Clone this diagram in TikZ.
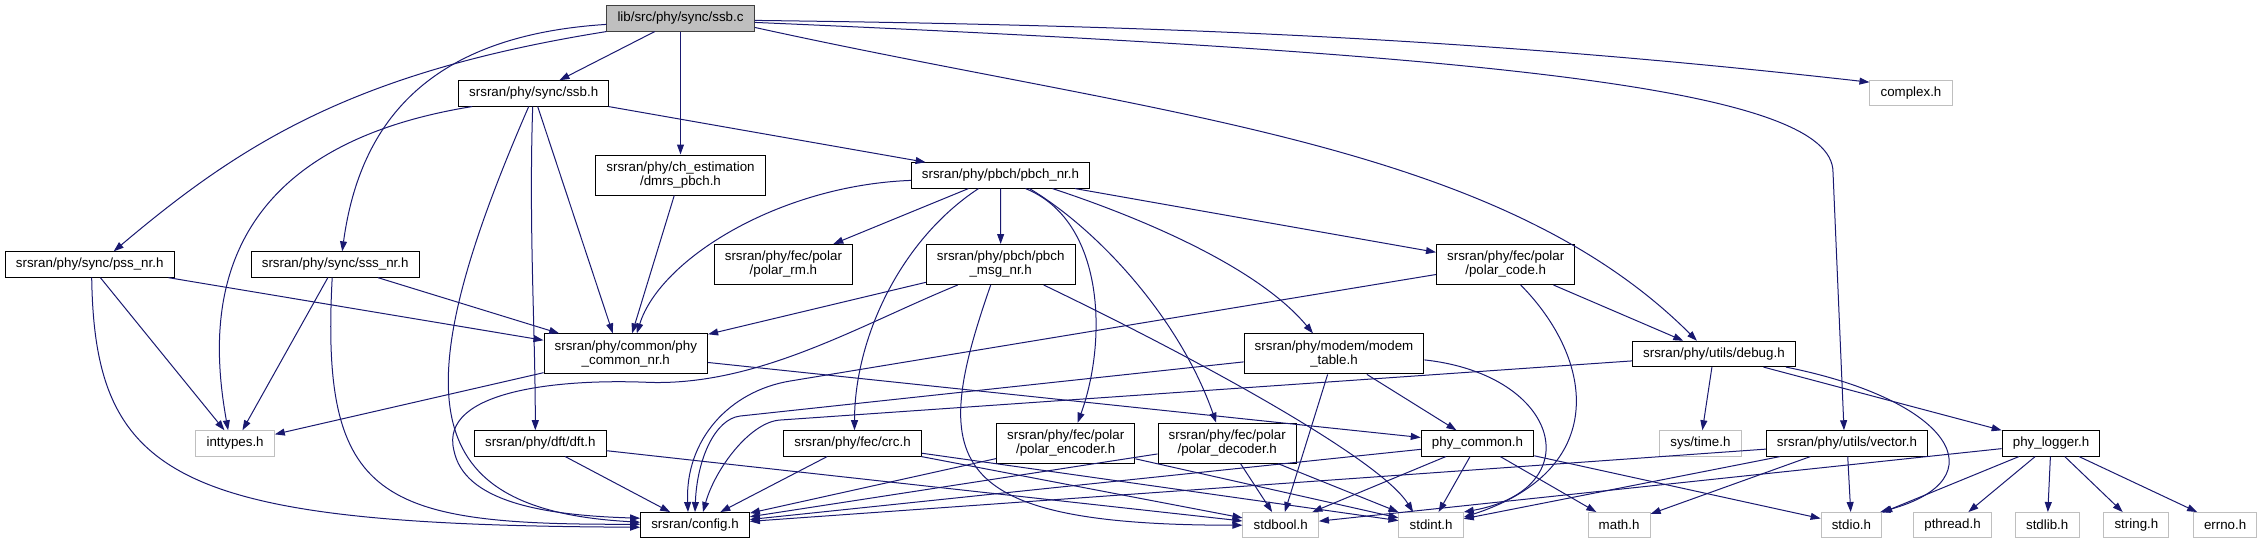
\documentclass[tikz,border=0pt]{standalone}
\usepackage{fontspec}
\setmainfont{Liberation Sans}
\usetikzlibrary{arrows.meta,calc}
\definecolor{edgeblue}{HTML}{191970}
\definecolor{boxgray}{HTML}{BFBFBF}

\begin{document}
\begin{tikzpicture}[x=0.75pt,y=0.75pt,
    hdr/.style={draw=black, line width=0.75pt, fill=white, font=\fontsize{10}{10.5}\selectfont,
        align=center, inner xsep=8pt, inner ysep=1pt, minimum height=19pt},
    two/.style={minimum height=30pt},
    sys/.style={hdr, draw=boxgray},
    root/.style={hdr, fill=boxgray, draw=black!75},
    dep/.style={draw=edgeblue, line width=0.75pt, -{Triangle[length=7.5pt,width=5.2pt]}}]
    \useasboundingbox (0,0) rectangle (2261,-544);

    \node[root] (ssbc) at (680.5,-18.4) {lib/src/phy/sync/ssb.c};
    \node[hdr] (ssbh) at (533.7,-93.4) {srsran/phy/sync/ssb.h};
    \node[sys] (complex) at (1911,-93.2) {complex.h};
    \node[hdr,two] (dmrs) at (680.5,-175) {srsran/phy/ch\_estimation\\/dmrs\_pbch.h};
    \node[hdr] (pbchnr) at (1000.5,-175.4) {srsran/phy/pbch/pbch\_nr.h};

    \node[hdr] (pss) at (89.7,-264.5) {srsran/phy/sync/pss\_nr.h};
    \node[hdr] (sss) at (335.2,-264.5) {srsran/phy/sync/sss\_nr.h};
    \node[hdr,two] (polarrm) at (783.4,-264.5) {srsran/phy/fec/polar\\/polar\_rm.h};
    \node[hdr,two] (pbchmsg) at (1000.7,-264.5) {srsran/phy/pbch/pbch\\\_msg\_nr.h};
    \node[hdr,two] (polarcode) at (1505.7,-264.5) {srsran/phy/fec/polar\\/polar\_code.h};

    \node[hdr,two] (phycommonnr) at (625.8,-353.9) {srsran/phy/common/phy\\\_common\_nr.h};
    \node[hdr,two] (modemtable) at (1334,-353.9) {srsran/phy/modem/modem\\\_table.h};
    \node[hdr] (debug) at (1713.9,-353.9) {srsran/phy/utils/debug.h};

    \node[sys] (inttypes) at (235.1,-443.4) {inttypes.h};
    \node[hdr] (dft) at (540.3,-443.4) {srsran/phy/dft/dft.h};
    \node[hdr] (crc) at (852.5,-443.4) {srsran/phy/fec/crc.h};
    \node[hdr,two] (polarenc) at (1065.7,-443.2) {srsran/phy/fec/polar\\/polar\_encoder.h};
    \node[hdr,two] (polardec) at (1227.2,-443.2) {srsran/phy/fec/polar\\/polar\_decoder.h};
    \node[hdr] (phycommon) at (1477.5,-443.4) {phy\_common.h};
    \node[sys] (systime) at (1700.4,-443.4) {sys/time.h};
    \node[hdr] (vector) at (1847,-443.4) {srsran/phy/utils/vector.h};
    \node[hdr] (phylogger) at (2051,-443.4) {phy\_logger.h};

    \node[hdr] (config) at (695,-525.2) {srsran/config.h};
    \node[sys] (stdbool) at (1280.7,-525.2) {stdbool.h};
    \node[sys] (stdint) at (1431.1,-525.2) {stdint.h};
    \node[sys] (math) at (1619.1,-525.2) {math.h};
    \node[sys] (stdio) at (1851.4,-525.2) {stdio.h};
    \node[sys] (pthread) at (1952.5,-525.2) {pthread.h};
    \node[sys] (stdlib) at (2047.2,-525.2) {stdlib.h};
    \node[sys] (string) at (2136.4,-525.2) {string.h};
    \node[sys] (errno) at (2225.1,-525.2) {errno.h};

    \foreach \src/\dst in {ssbc/ssbh, ssbc/dmrs, ssbh/pbchnr, dmrs/phycommonnr,
        pss/phycommonnr, pss/inttypes, sss/phycommonnr, sss/inttypes,
        pbchnr/polarrm, pbchnr/pbchmsg, pbchnr/polarcode, pbchmsg/phycommonnr,
        polarcode/debug, modemtable/phycommon, modemtable/stdbool,
        phycommonnr/inttypes, phycommonnr/phycommon, debug/systime, debug/phylogger,
        dft/config, dft/stdbool, crc/config, crc/stdbool, crc/stdint,
        polarenc/config, polarenc/stdint, polardec/config, polardec/stdbool, polardec/stdint,
        phycommon/config, phycommon/stdbool, phycommon/stdint, phycommon/math, phycommon/stdio,
        vector/config, vector/stdint, vector/math, vector/stdio,
        phylogger/stdbool, phylogger/stdio, phylogger/pthread, phylogger/stdlib,
        phylogger/string, phylogger/errno}
        \draw[dep] (\src) -- (\dst);

    \draw[dep] (ssbc.south west) .. controls +(-250,-40) and +(130,110) .. ($(pss.north)+(24,0)$);
    \draw[dep] ($(ssbc.west)+(0,-6)$) .. controls +(-175,-11) and +(18,132) .. ($(sss.north)+(7,0)$);
    \draw[dep] ($(ssbc.east)+(0,-2)$) .. controls +(400,-5) and +(-400,45) .. ($(complex.west)+(0,11)$);
    \draw[dep] ($(ssbc.east)+(0,-4)$) .. controls +(744,-32) and +(0,83) .. ($(vector.north)+(-14,258)$)
        -- ($(vector.north)+(-3,0)$);
    \draw[dep] ($(ssbc.east)+(0,-9)$) .. controls +(400,-88) and +(-200,200) .. ($(debug.north)+(-17,0)$);

    \draw[dep] ($(ssbh.south west)+(14,0)$) .. controls +(-273,-44) and +(-18,101) .. ($(inttypes.north)+(-7,0)$);
    \draw[dep] ($(ssbh.south)+(-5,0)$) .. controls +(-128,-294) and +(-221,12) .. ($(config.west)+(0,3)$);
    \draw[dep] ($(ssbh.south)+(-1,0)$) .. controls +(-4,-120) and +(0,100) .. ($(dft.north)+(-5,0)$);
    \draw[dep] ($(ssbh.south)+(4,0)$) -- ($(phycommonnr.north)+(-13,0)$);

    \draw[dep] ($(pss.south)+(2,0)$) .. controls +(3,-203) and +(-461,2) .. ($(config.west)+(0,-2)$);
    \draw[dep] ($(sss.south)+(-3,0)$) .. controls +(-12,-223) and +(-261,-1) .. ($(config.west)+(0,1)$);

    \draw[dep] ($(pbchnr.west)+(0,-5)$) .. controls +(-132,-5) and +(23,74) .. ($(phycommonnr.north)+(11,0)$);
    \draw[dep] ($(pbchnr.south)+(-22,0)$) .. controls +(-79,-52) and +(0,91) .. ($(crc.north)+(2,0)$);
    \draw[dep] ($(pbchnr.south)+(25,0)$) .. controls +(79,-32) and +(30,83) .. ($(polarenc.north)+(12,0)$);
    \draw[dep] ($(pbchnr.south)+(29,0)$) .. controls +(70,-42) and +(-36,103) .. ($(polardec.north)+(-11,0)$);
    \draw[dep] ($(pbchnr.south)+(52,0)$) .. controls +(97,-32) and +(-53,64) .. ($(modemtable.north)+(-21,0)$);

    \draw[dep] ($(pbchmsg.south)+(-43,0)$) .. controls +(-98,-40) and +(110,-3) .. ($(phycommonnr.south)+(24,-8)$)
        .. controls +(-90,4) and +(-15,60) .. ($(dft.west)+(-20,-7)$)
        .. controls +(10,-50) and +(-101,3) .. ($(config.west)+(0,7)$);
    \draw[dep] ($(pbchmsg.south)+(-10,0)$) .. controls +(-61,-175) and +(-303,0) .. (stdbool.west);
    \draw[dep] ($(pbchmsg.south)+(43,0)$) .. controls +(156,-75) and +(-33,53) .. ($(stdint.north)+(-18,0)$);

    \draw[dep] ($(polarcode.south)+(15,0)$) .. controls +(74,-75) and +(146,47) .. ($(stdint.east)+(0,8)$);
    \draw[dep] ($(polarcode.west)+(0,-10)$) -- ($(config.north)+(95,131)$)
        .. controls +(-60,-10) and +(-3,73) .. ($(config.north)+(-7,0)$);

    \draw[dep] ($(modemtable.west)+(0,-8)$) -- ($(config.north)+(45,96)$)
        .. controls +(-25,-3) and +(2,53) .. (config.north);
    \draw[dep] ($(modemtable.east)+(0,-6)$) .. controls +(137,-15) and +(126,23) .. (stdint.north east);

    \draw[dep] ($(debug.west)+(0,-7)$) -- ($(config.north)+(85,92)$)
        .. controls +(-30,-2) and +(12,43) .. ($(config.north)+(8,0)$);
    \draw[dep] ($(debug.south east)+(-10,0)$) .. controls +(166,-33) and +(120,33) .. ($(stdio.north east)+(-2,0)$);
\end{tikzpicture}
\end{document}
